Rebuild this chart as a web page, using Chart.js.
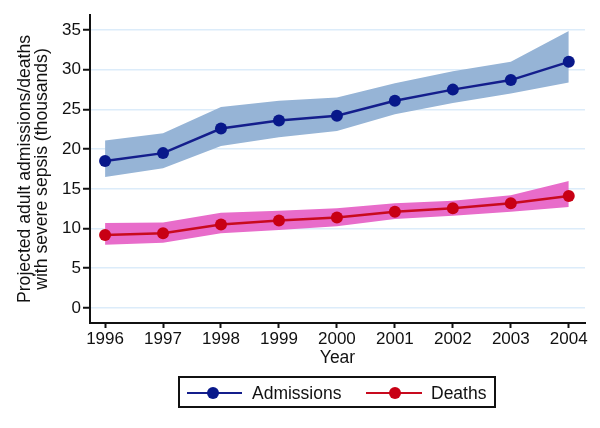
<!DOCTYPE html>
<html>
<head>
<meta charset="utf-8">
<script src="https://cdn.jsdelivr.net/npm/chart.js@4"></script>
<style>
html,body{margin:0;padding:0;background:#fff;}
#wrap{width:600px;height:428px;}
</style>
</head>
<body>
<div id="wrap"><canvas id="c" width="600" height="428"></canvas></div>
<script>
const years = [1996, 1997, 1998, 1999, 2000, 2001, 2002, 2003, 2004];
const admissions = [18.5, 19.5, 22.6, 23.6, 24.2, 26.1, 27.5, 28.7, 31.0];
const admissionsUpper = [21.1, 22.0, 25.3, 26.1, 26.5, 28.3, 29.8, 31.0, 34.9];
const admissionsLower = [16.5, 17.6, 20.4, 21.5, 22.3, 24.4, 25.8, 27.0, 28.4];
const deaths = [9.2, 9.4, 10.5, 11.0, 11.4, 12.1, 12.55, 13.2, 14.1];
const deathsUpper = [10.7, 10.75, 12.0, 12.25, 12.55, 13.2, 13.5, 14.2, 16.0];
const deathsLower = [7.95, 8.2, 9.4, 9.8, 10.3, 11.2, 11.6, 12.1, 12.7];
const yTicks = [0, 5, 10, 15, 20, 25, 30, 35];
const seriesLabels = ['Admissions', 'Deaths'];

const pts = arr => arr.map((v, i) => ({x: years[i], y: v}));
const FONT = 'Liberation Sans, Arial, Helvetica, sans-serif';

const bandA = 'rgb(150,180,214)';
const bandD = 'rgb(232,108,202)';
const lineA = 'rgb(20,30,140)';
const markA = 'rgb(8,24,138)';
const lineD = 'rgb(200,10,30)';
const markD = 'rgb(200,0,20)';

const legendPlugin = {
  id: 'customLegend',
  afterDraw(chart) {
    const ctx = chart.ctx;
    ctx.save();
    ctx.strokeStyle = '#111';
    ctx.lineWidth = 2;
    ctx.strokeRect(179, 377, 316, 30);
    const items = [
      {label: chart.data.datasets[2].label, line: lineA, mark: markA, x0: 187, x1: 242, mx: 213, tx: 252},
      {label: chart.data.datasets[5].label, line: lineD, mark: markD, x0: 366, x1: 422, mx: 395, tx: 431}
    ];
    const cy = 393;
    items.forEach(it => {
      ctx.strokeStyle = it.line;
      ctx.lineWidth = 2;
      ctx.beginPath();
      ctx.moveTo(it.x0, cy);
      ctx.lineTo(it.x1, cy);
      ctx.stroke();
      ctx.fillStyle = it.mark;
      ctx.beginPath();
      ctx.arc(it.mx, cy, 6, 0, Math.PI * 2);
      ctx.fill();
      ctx.fillStyle = '#111';
      ctx.font = '17.5px ' + FONT;
      ctx.textBaseline = 'middle';
      ctx.textAlign = 'left';
      ctx.fillText(it.label, it.tx, cy + 1);
    });
    ctx.restore();
  }
};

new Chart(document.getElementById('c'), {
  type: 'line',
  data: {
    datasets: [
      {label: 'Admissions upper', order: 2, data: pts(admissionsUpper), borderWidth: 0, pointRadius: 0, backgroundColor: bandA, fill: '+1', tension: 0},
      {label: 'Admissions lower', order: 2, data: pts(admissionsLower), borderWidth: 0, pointRadius: 0, backgroundColor: bandA, fill: false, tension: 0},
      {label: seriesLabels[0], order: 1, data: pts(admissions), borderColor: lineA, borderWidth: 2.5, pointRadius: 6, pointBackgroundColor: markA, pointBorderWidth: 0, fill: false, tension: 0},
      {label: 'Deaths upper', order: 2, data: pts(deathsUpper), borderWidth: 0, pointRadius: 0, backgroundColor: bandD, fill: '+1', tension: 0},
      {label: 'Deaths lower', order: 2, data: pts(deathsLower), borderWidth: 0, pointRadius: 0, backgroundColor: bandD, fill: false, tension: 0},
      {label: seriesLabels[1], order: 1, data: pts(deaths), borderColor: lineD, borderWidth: 2.5, pointRadius: 6, pointBackgroundColor: markD, pointBorderWidth: 0, fill: false, tension: 0}
    ]
  },
  options: {
    responsive: false,
    animation: false,
    events: [],
    layout: {padding: {left: 0, right: 15, top: 15, bottom: 59}},
    plugins: {legend: {display: false}, tooltip: {enabled: false}},
    scales: {
      x: {
        type: 'linear',
        min: 1995.74,
        max: 2004.28,
        afterFit: s => { s.height = 46; },
        afterBuildTicks: s => { s.ticks = years.map(v => ({value: v})); },
        ticks: {
          includeBounds: false,
          stepSize: 1,
          padding: 1,
          color: '#111',
          font: {family: FONT, size: 17},
          maxRotation: 0,
          autoSkip: false,
          callback: v => String(v)
        },
        grid: {drawOnChartArea: false, drawTicks: true, tickLength: 5, tickColor: '#111', tickWidth: 2},
        border: {color: '#111', width: 2},
        title: {display: true, text: 'Year', color: '#111', font: {family: FONT, size: 17.5, lineHeight: 1.2}, padding: {top: 0, bottom: 0}}
      },
      y: {
        type: 'linear',
        min: -1.9,
        max: 36.9,
        afterFit: s => { s.width = 90; },
        afterBuildTicks: s => { s.ticks = yTicks.map(v => ({value: v})); },
        ticks: {
          includeBounds: false,
          stepSize: 5,
          padding: 2,
          color: '#111',
          font: {family: FONT, size: 17},
          callback: v => String(v)
        },
        grid: {color: 'rgb(220,236,250)', lineWidth: 1.5, drawTicks: true, tickLength: 7, tickColor: '#111', tickWidth: 2},
        border: {color: '#111', width: 2},
        title: {display: true, text: ['Projected adult admissions/deaths', 'with severe sepsis (thousands)'], color: '#111', font: {family: FONT, size: 17.6, lineHeight: 0.97}, padding: {top: 17, bottom: 0}}
      }
    }
  },
  plugins: [legendPlugin]
});
</script>
</body>
</html>
